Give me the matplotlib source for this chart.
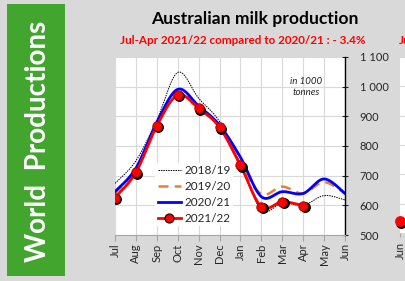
import numpy as np
import matplotlib
matplotlib.use("Agg")
import matplotlib.pyplot as plt
from matplotlib.transforms import offset_copy
from matplotlib.patches import Rectangle

months = ["Jul", "Aug", "Sep", "Oct", "Nov", "Dec", "Jan", "Feb", "Mar", "Apr", "May", "Jun"]
s1819 = [674, 750, 888, 1048, 961, 882, 740, 584, 608, 600, 633, 618]
s1920 = [640, 720, 872, 978, 925, 866, 738, 638, 663, 640, 678, 640]
s2021 = [646, 725, 880, 991, 935, 870, 762, 629, 646, 640, 689, 640]
s2122 = [626, 711, 868, 972, 927, 863, 735, 595, 612, 599]
yticks = [500, 600, 700, 800, 900, 1000, 1100]
ytick_labels = ["500", "600", "700", "800", "900", "1 000", "1 100"]

plt.rcParams['font.family'] = ['Lato', 'DejaVu Sans']


def smooth(y, n=20):
    """Excel-style Bezier smoothing through the data points."""
    x = np.arange(len(y), dtype=float)
    pts = np.column_stack([x, np.asarray(y, dtype=float)])
    out = []
    m = len(pts)
    t = np.linspace(0, 1, n)[:, None]
    for i in range(m - 1):
        p0 = pts[i - 1] if i > 0 else pts[i]
        p1 = pts[i]
        p2 = pts[i + 1]
        p3 = pts[i + 2] if i + 2 < m else pts[i + 1]
        c1 = p1 + (p2 - p0) / 6.0
        c2 = p2 - (p3 - p1) / 6.0
        seg = ((1 - t) ** 3) * p1 + 3 * ((1 - t) ** 2) * t * c1 + 3 * (1 - t) * t ** 2 * c2 + t ** 3 * p2
        out.append(seg if i == 0 else seg[1:])
    arr = np.vstack(out)
    return arr[:, 0], arr[:, 1]


W, H = 406, 281
fig = plt.figure(figsize=(W / 100, H / 100), dpi=100)
fig.patch.set_facecolor('#d9d9d9')

# green banner
fig.patches.append(Rectangle((7 / W, 1 - 276 / H), 58 / W, 272 / H, transform=fig.transFigure,
                             facecolor='#42a62e', edgecolor='none', zorder=0))
fig.text(38 / W, 1 - 141 / H, "World  Productions", rotation=90, color='white', fontsize=20,
         fontweight='bold', ha='center', va='center')

ax = fig.add_axes([115 / W, 1 - 235 / H, 230 / W, 178 / H])
ax.set_facecolor('white')
ax.set_xlim(0, 11)
ax.set_ylim(500, 1100)
ax.set_xticks(range(len(months)))
ax.set_xticklabels(months, rotation=90, fontsize=8)
ax.set_yticks(yticks)
ax.set_yticklabels(ytick_labels, fontsize=8)
ax.yaxis.tick_right()
ax.grid(True, color='#d9d9d9', linewidth=0.8)
ax.set_axisbelow(True)
for sp in ['left', 'top']:
    ax.spines[sp].set_visible(False)
ax.spines['right'].set_color('black')
ax.spines['right'].set_linewidth(1.0)
ax.spines['bottom'].set_color('#a6a6a6')
ax.tick_params(axis='y', direction='inout', length=5, pad=8, colors='#262626', labelcolor='#262626')
ax.tick_params(axis='x', direction='out', length=4, color='#a6a6a6', labelcolor='#262626', pad=2)

x, y = smooth(s1819)
l1, = ax.plot(x, y, color='black', linestyle=(0, (1.5, 1)), linewidth=0.7, label='2018/19')
x, y = smooth(s1920)
l2, = ax.plot(x, y, color='#ed7d31', linestyle=(0, (4, 2.5)), linewidth=1.8, label='2019/20')
x, y = smooth(s2021)
l3, = ax.plot(x, y, color='#0000ff', linewidth=2.0, label='2020/21')
x, y = smooth(s2122)
ax.plot(x, y, color='#ff0000', linewidth=2.0)
shadow = offset_copy(ax.transData, fig=fig, x=1.5, y=-1.5, units='dots')
ax.plot(range(len(s2122)), s2122, linestyle='none', marker='o', markersize=6.8,
        color='black', transform=shadow, zorder=3)
ax.plot(range(len(s2122)), s2122, linestyle='none', marker='o', markersize=6.8,
        markerfacecolor='#ff0000', markeredgecolor='#990000', markeredgewidth=0.6, zorder=4)
l4, = ax.plot([], [], color='#ff0000', linewidth=2.0, marker='o', markersize=6.5,
              markerfacecolor='#ff0000', markeredgecolor='black', markeredgewidth=0.8, label='2021/22')

leg = ax.legend(handles=[l1, l2, l3, l4], loc='lower left', bbox_to_anchor=(0.175, 0.05),
                frameon=True, fontsize=8.5, handlelength=2.0, handletextpad=0.3,
                labelspacing=0.42, borderpad=0.2, borderaxespad=0)
leg.get_frame().set_edgecolor('none')
leg.get_frame().set_facecolor('white')
leg.get_frame().set_alpha(1)
for t in leg.get_texts():
    t.set_color('#262626')

ax.text(0.83, 0.83, "in 1000\ntonnes", transform=ax.transAxes, fontsize=7, style='italic',
        ha='center', va='center', color='#262626', linespacing=1.35)

fig.text(255 / W, 1 - 19 / H, "Australian milk production", fontsize=12.6, fontweight='bold',
         ha='center', va='center', color='black')
fig.text(243 / W, 1 - 40 / H, "Jul-Apr 2021/22 compared to 2020/21 : - 3.4%", fontsize=8.4,
         fontweight='bold', ha='center', va='center', color='#ff0000')
fig.text(399 / W, 1 - 40 / H, "Ju", fontsize=8.4, fontweight='bold', ha='left', va='center', color='#ff0000')

# partial neighbouring chart on the right edge
ax2 = fig.add_axes([400 / W, 1 - 233 / H, 40 / W, 176 / H])
ax2.set_facecolor('white')
ax2.set_xlim(0, 11)
ax2.set_ylim(500, 1100)
ax2.set_yticks(yticks)
ax2.set_yticklabels([])
ax2.set_xticks([0])
ax2.set_xticklabels(["Jun"], rotation=90, fontsize=8, color='#262626')
ax2.tick_params(axis='x', length=3, color='#a6a6a6')
ax2.tick_params(axis='y', length=0)
ax2.grid(True, axis='y', color='#d9d9d9', linewidth=0.8)
for sp in ax2.spines.values():
    sp.set_visible(False)
ax2.plot([0], [540], linestyle='none', marker='o', markersize=6.8, color='black',
         transform=offset_copy(ax2.transData, fig=fig, x=1.5, y=-1.5, units='dots'), clip_on=False)
ax2.plot([0], [540], linestyle='none', marker='o', markersize=6.8, color='#ff0000', clip_on=False)

fig.savefig("out.png", dpi=100, facecolor=fig.get_facecolor())
